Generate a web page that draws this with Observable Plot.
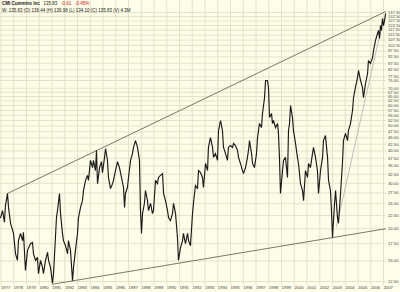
<!DOCTYPE html>
<html>
<head>
<meta charset="utf-8">
<script src="https://cdn.jsdelivr.net/npm/d3@7"></script>
<script src="https://cdn.jsdelivr.net/npm/@observablehq/plot@0.6"></script>
<style>
  html, body { margin: 0; padding: 0; background: #fdfde9; }
  #wrap { position: relative; width: 400px; height: 292px; overflow: hidden; }
  #hdr { position: absolute; left: 2px; top: 1px; font-family: "Liberation Sans", Arial, sans-serif; font-size: 4.5px; line-height: 6.5px; color: #222; white-space: nowrap; }
  #hdr .red { color: #d01010; }
  #hdr b { font-weight: bold; }
</style>
</head>
<body>
<div id="wrap">
  <div id="chart"></div>
  <div id="hdr">
    <div><b>CMI Cummins Inc</b>&nbsp;&nbsp;&nbsp;135.83&nbsp;&nbsp;&nbsp;<span class="red">-0.61&nbsp;&nbsp;&nbsp;-0.45%</span></div>
    <div>W: 135.83 (O) 136.44 (H) 136.98 (L) 134.10 (C) 135.83 (V) 4.3M</div>
  </div>
</div>
<script>
// ---- data (decimal year, price) ----
const dates = [1976.97, 1977.12, 1977.27, 1977.35, 1977.51, 1977.59, 1977.75, 1977.98, 1978.14, 1978.29, 1978.37, 1978.53, 1978.69, 1978.76, 1978.92, 1979.08, 1979.31, 1979.47, 1979.55, 1979.71, 1979.86, 1979.94, 1980.10, 1980.25, 1980.33, 1980.49, 1980.65, 1980.73, 1980.88, 1981.04, 1981.12, 1981.27, 1981.35, 1981.43, 1981.59, 1981.67, 1981.82, 1981.90, 1982.06, 1982.22, 1982.29, 1982.45, 1982.61, 1982.69, 1982.84, 1983.00, 1983.08, 1983.24, 1983.39, 1983.47, 1983.63, 1983.78, 1983.86, 1984.02, 1984.18, 1984.25, 1984.41, 1984.49, 1984.57, 1984.73, 1984.88, 1984.96, 1985.12, 1985.20, 1985.35, 1985.43, 1985.59, 1985.75, 1985.82, 1985.98, 1986.14, 1986.29, 1986.45, 1986.61, 1986.69, 1986.76, 1986.92, 1987.00, 1987.16, 1987.31, 1987.39, 1987.55, 1987.71, 1987.78, 1987.86, 1987.94, 1988.02, 1988.10, 1988.25, 1988.33, 1988.49, 1988.57, 1988.73, 1988.88, 1988.96, 1989.12, 1989.27, 1989.35, 1989.51, 1989.67, 1989.75, 1989.90, 1990.06, 1990.14, 1990.29, 1990.45, 1990.53, 1990.69, 1990.84, 1990.92, 1991.08, 1991.24, 1991.31, 1991.47, 1991.63, 1991.71, 1991.86, 1992.02, 1992.10, 1992.25, 1992.41, 1992.49, 1992.65, 1992.80, 1992.88, 1993.04, 1993.20, 1993.27, 1993.43, 1993.59, 1993.67, 1993.82, 1993.98, 1994.06, 1994.22, 1994.37, 1994.45, 1994.61, 1994.76, 1994.84, 1995.00, 1995.16, 1995.24, 1995.39, 1995.55, 1995.63, 1995.78, 1995.94, 1996.02, 1996.18, 1996.33, 1996.41, 1996.49, 1996.65, 1996.73, 1996.88, 1997.04, 1997.12, 1997.27, 1997.43, 1997.51, 1997.67, 1997.75, 1997.90, 1997.98, 1998.06, 1998.22, 1998.29, 1998.37, 1998.53, 1998.69, 1998.76, 1998.84, 1998.92, 1999.08, 1999.16, 1999.31, 1999.47, 1999.55, 1999.63, 1999.71, 1999.86, 1999.94, 2000.10, 2000.25, 2000.33, 2000.49, 2000.65, 2000.73, 2000.88, 2001.04, 2001.12, 2001.27, 2001.43, 2001.51, 2001.67, 2001.82, 2001.90, 2002.06, 2002.22, 2002.29, 2002.45, 2002.61, 2002.69, 2002.84, 2002.92, 2003.00, 2003.16, 2003.24, 2003.39, 2003.47, 2003.63, 2003.78, 2003.86, 2004.02, 2004.18, 2004.25, 2004.41, 2004.57, 2004.65, 2004.80, 2004.96, 2005.04, 2005.20, 2005.35, 2005.43, 2005.59, 2005.75, 2005.82, 2005.98, 2006.14, 2006.22, 2006.37, 2006.53, 2006.61, 2006.69, 2006.76, 2006.84, 2006.92, 2007.00, 2007.08, 2007.16];
const prices = [22.1, 23.5, 21.2, 24.6, 27.4, 24.2, 21.0, 19.2, 16.0, 15.1, 18.0, 19.2, 18.0, 19.4, 13.8, 16.5, 17.5, 17.7, 16.0, 15.1, 15.5, 13.4, 15.1, 14.2, 13.4, 15.1, 16.2, 15.1, 14.2, 12.3, 13.4, 18.5, 22.1, 23.5, 27.4, 22.9, 19.2, 18.0, 17.2, 16.0, 18.0, 16.5, 12.6, 14.2, 16.5, 19.2, 22.1, 24.2, 25.7, 28.1, 30.8, 32.2, 30.8, 36.8, 34.5, 36.8, 33.6, 40.2, 29.9, 34.5, 36.4, 33.0, 37.8, 40.9, 36.8, 31.6, 28.6, 29.9, 30.8, 33.6, 36.4, 34.5, 31.6, 28.9, 24.2, 27.4, 28.9, 31.6, 36.8, 39.1, 41.3, 43.9, 41.3, 39.1, 36.8, 23.5, 19.2, 22.9, 25.1, 28.1, 25.7, 23.5, 25.1, 22.9, 23.5, 30.8, 29.9, 31.6, 32.2, 32.7, 27.4, 25.7, 23.5, 22.1, 21.5, 22.9, 25.1, 22.9, 18.5, 15.1, 16.9, 18.0, 19.2, 17.5, 19.2, 18.0, 17.2, 22.9, 25.3, 29.4, 28.6, 33.6, 33.0, 31.6, 28.9, 35.8, 33.6, 41.3, 45.1, 41.3, 37.8, 39.1, 36.8, 48.0, 52.5, 48.0, 41.3, 39.1, 36.8, 41.3, 42.0, 41.3, 42.8, 42.0, 40.2, 37.8, 35.8, 33.6, 32.7, 34.5, 37.8, 40.2, 43.9, 39.1, 35.8, 34.5, 39.1, 45.1, 51.1, 49.3, 55.9, 64.4, 75.0, 75.0, 70.5, 53.9, 55.9, 51.1, 52.5, 49.3, 51.1, 46.8, 37.8, 27.4, 33.6, 36.8, 37.8, 31.6, 48.0, 51.1, 60.0, 53.9, 48.0, 42.8, 37.8, 35.8, 29.9, 28.1, 25.7, 33.6, 31.6, 35.8, 34.5, 39.1, 41.3, 37.8, 33.6, 27.4, 33.6, 37.8, 43.9, 45.9, 37.8, 30.8, 28.1, 23.5, 18.5, 25.1, 28.1, 22.1, 21.0, 27.4, 35.8, 43.9, 46.8, 43.9, 48.0, 51.1, 57.4, 64.4, 70.5, 77.0, 82.0, 75.0, 70.5, 64.4, 73.0, 79.8, 89.6, 87.3, 92.0, 98.0, 107.1, 114.0, 117.1, 109.0, 122.4, 117.1, 130.3, 122.4, 128.0, 135.8];

// trend lines (decimal year, price)
const upperTrendT = [1977.51, 2007.16];
const upperTrendP = [27.4, 138.6];
const lowerTrendT = [1981.04, 2007.16];
const lowerTrendP = [12.2, 20.0];
const steepTrendT = [2003.31, 2007.0];
const steepTrendP = [20.4, 130.3];

// tick labels
const yearTicks = [1977, 1978, 1979, 1980, 1981, 1982, 1983, 1984, 1985, 1986, 1987, 1988, 1989, 1990, 1991, 1992, 1993, 1994, 1995, 1996, 1997, 1998, 1999, 2000, 2001, 2002, 2003, 2004, 2005, 2006, 2007];
const priceTicks = [137.5, 132.5, 127.5, 122.5, 117.5, 112.5, 107.5, 102.5, 97.5, 92.5, 87.5, 82.5, 77.5, 75, 70, 67.5, 65, 62.5, 60, 57.5, 55, 52.5, 50, 47.5, 45, 42.5, 40, 37.5, 35, 32.5, 30, 27.5, 25, 22.5, 20, 17.5, 15, 12.5];

const n = Math.min(dates.length, prices.length);
const series = [];
for (let i = 0; i < n; i++) series.push({t: dates[i], p: prices[i]});
const mk = (T, P) => T.map((t, i) => ({t, p: P[i]}));
const upper = mk(upperTrendT, upperTrendP);
const lower = mk(lowerTrendT, lowerTrendP);
const steep = mk(steepTrendT, steepTrendP);

const gridColor = "#e4e2c6";

const chart = Plot.plot({
  width: 400,
  height: 292,
  marginLeft: 0,
  marginRight: 14,
  marginTop: 0,
  marginBottom: 7,
  style: {background: "#fdfde9", fontFamily: "'Liberation Sans', Arial, sans-serif", overflow: "visible"},
  x: {type: "linear", domain: [1977, 2007.2], range: [0.5, 385.55]},
  y: {type: "log", domain: [12.5, 137.5], range: [281, 12]},
  marks: [
    Plot.gridX({ticks: yearTicks, stroke: gridColor, strokeOpacity: 1}),
    Plot.gridY({ticks: priceTicks, stroke: gridColor, strokeOpacity: 1}),
    Plot.axisY({ticks: priceTicks, anchor: "right", tickSize: 0, tickPadding: 1.5, tickFormat: d => d.toFixed(2), fontSize: 4.2, fill: "#444", label: null}),
    Plot.axisX({ticks: yearTicks, anchor: "bottom", tickSize: 0, tickPadding: 1, tickFormat: d => String(d), textAnchor: "start", fontSize: 4.2, fill: "#444", label: null}),
    Plot.line(upper, {x: "t", y: "p", stroke: "#6a6a58", strokeWidth: 0.9}),
    Plot.line(lower, {x: "t", y: "p", stroke: "#6a6a58", strokeWidth: 0.9}),
    Plot.line(steep, {x: "t", y: "p", stroke: "#b8b8b0", strokeWidth: 0.9}),
    Plot.line(series, {x: "t", y: "p", stroke: "#1a1a1a", strokeWidth: 1.15, strokeLinejoin: "miter", strokeMiterlimit: 3})
  ]
});
document.getElementById("chart").appendChild(chart);
</script>
</body>
</html>
